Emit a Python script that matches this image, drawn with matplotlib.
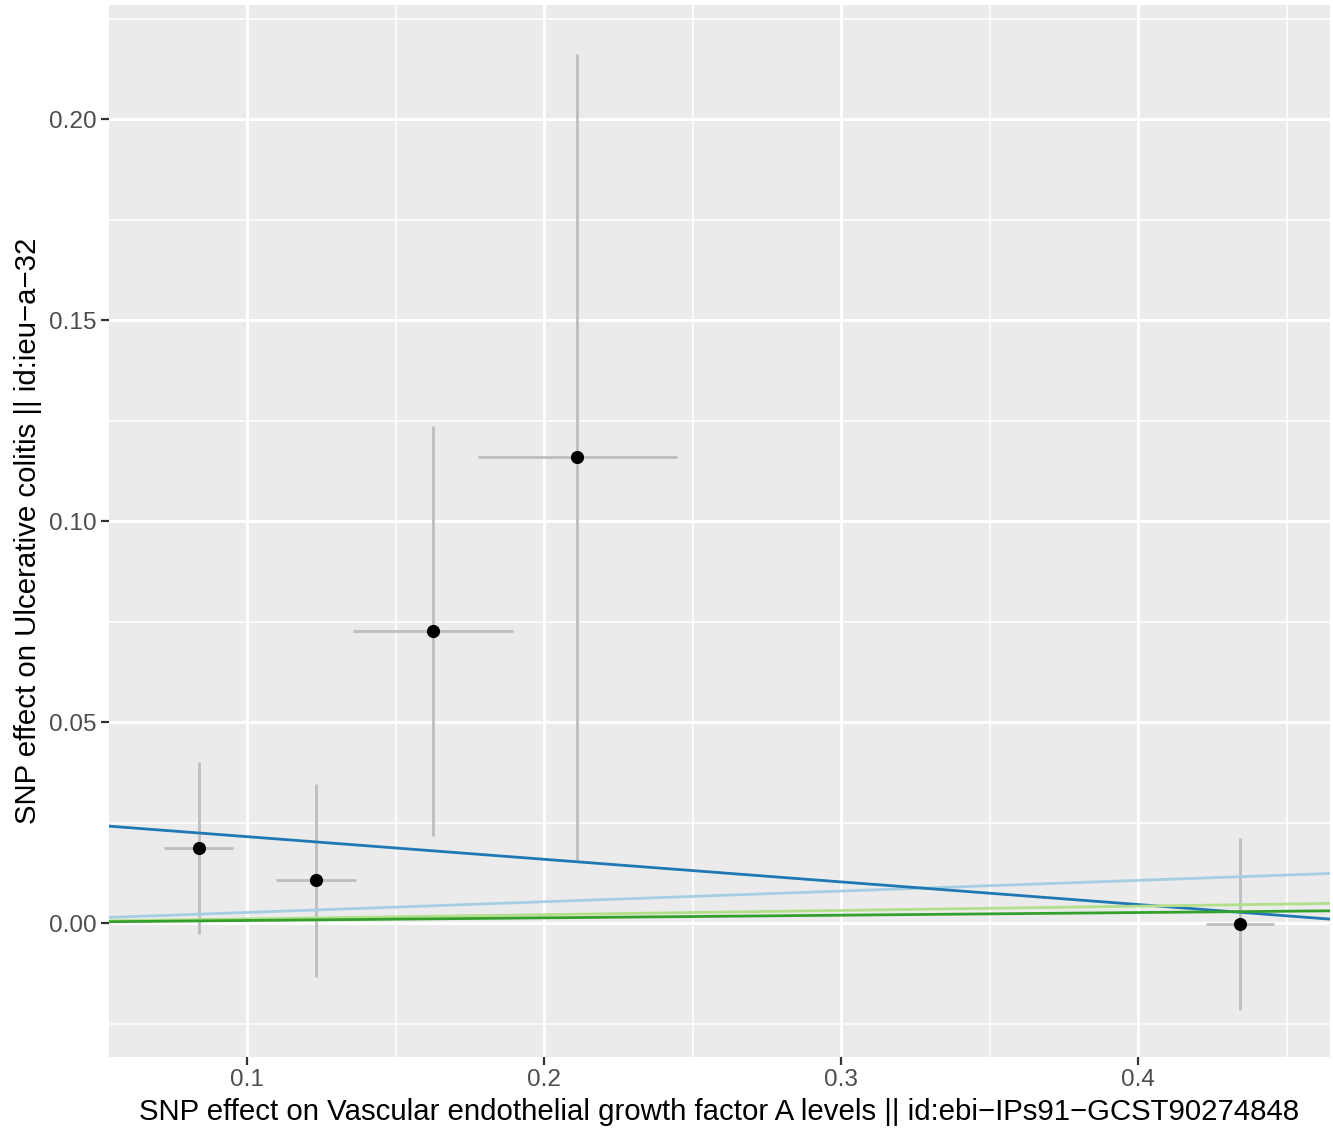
import matplotlib
matplotlib.use("Agg")
import matplotlib.pyplot as plt
import numpy as np
from matplotlib.ticker import MultipleLocator, FixedLocator

plt.rcParams['font.family'] = ['Liberation Sans', 'DejaVu Sans']

# SNP data
beta_exposure = [0.0838, 0.1232, 0.1626, 0.2111, 0.4343]
se_exposure = [0.0116, 0.0136, 0.0268, 0.0335, 0.0113]
beta_outcome = [0.0187, 0.0107, 0.0726, 0.1159, -0.0002]
se_outcome = [0.0214, 0.0240, 0.0510, 0.1003, 0.0215]

# MR method fits (intercept, slope)
methods = ["Inverse variance weighted", "MR Egger", "Simple mode", "Weighted median"]
intercepts = [0.0, 0.02714, 0.0, 0.0]
slopes = [0.0266, -0.05627, 0.01055, 0.00659]
colors = ["#A6CEE3", "#1F78B4", "#B2DF8A", "#33A02C"]

W, H = 1333, 1129
fig = plt.figure(figsize=(W / 100, H / 100), dpi=100)
ax = fig.add_axes([109 / W, 1 - 1057 / H, (1330 - 109) / W, (1057 - 5) / H])
ax.set_facecolor("#EBEBEB")
for s in ax.spines.values():
    s.set_visible(False)

ax.set_xlim(0.05354, 0.4646)
ax.set_ylim(-0.0333, 0.2284)

ax.xaxis.set_major_locator(FixedLocator([0.1, 0.2, 0.3, 0.4]))
ax.xaxis.set_minor_locator(FixedLocator([0.05, 0.15, 0.25, 0.35, 0.45]))
ax.yaxis.set_major_locator(FixedLocator([0.0, 0.05, 0.10, 0.15, 0.20]))
ax.yaxis.set_minor_locator(FixedLocator([-0.025, 0.025, 0.075, 0.125, 0.175, 0.225]))
ax.set_xticklabels(["0.1", "0.2", "0.3", "0.4"])
ax.set_yticklabels(["0.00", "0.05", "0.10", "0.15", "0.20"])

ax.grid(which="major", color="white", linewidth=2.2, zorder=0)
ax.grid(which="minor", color="white", linewidth=1.1, zorder=0)
ax.set_axisbelow(True)
ax.tick_params(which="major", length=6, width=1.6, color="#333333",
               labelsize=17.6, labelcolor="#4D4D4D", pad=3)
ax.tick_params(which="minor", length=0)

# error bars
for x, sx, y, sy in zip(beta_exposure, se_exposure, beta_outcome, se_outcome):
    ax.plot([x, x], [y - sy, y + sy], color="#BEBEBE", linewidth=2.0, zorder=2,
            solid_capstyle="butt")
    ax.plot([x - sx, x + sx], [y, y], color="#BEBEBE", linewidth=2.0, zorder=2,
            solid_capstyle="butt")

# regression lines
for m, a, b, c in zip(methods, intercepts, slopes, colors):
    ax.axline((0, a), slope=b, color=c, linewidth=2.0, zorder=3, label=m)

ax.scatter(beta_exposure, beta_outcome, s=90, color="black", zorder=4, linewidths=0)

ax.set_xlabel("SNP effect on Vascular endothelial growth factor A levels || id:ebi\u2212IPs91\u2212GCST90274848",
              fontsize=21.2, color="black", labelpad=5)
ax.set_ylabel("SNP effect on Ulcerative colitis || id:ieu\u2212a\u221232",
              fontsize=21.2, color="black", labelpad=5)

fig.savefig("out.png", dpi=100)
